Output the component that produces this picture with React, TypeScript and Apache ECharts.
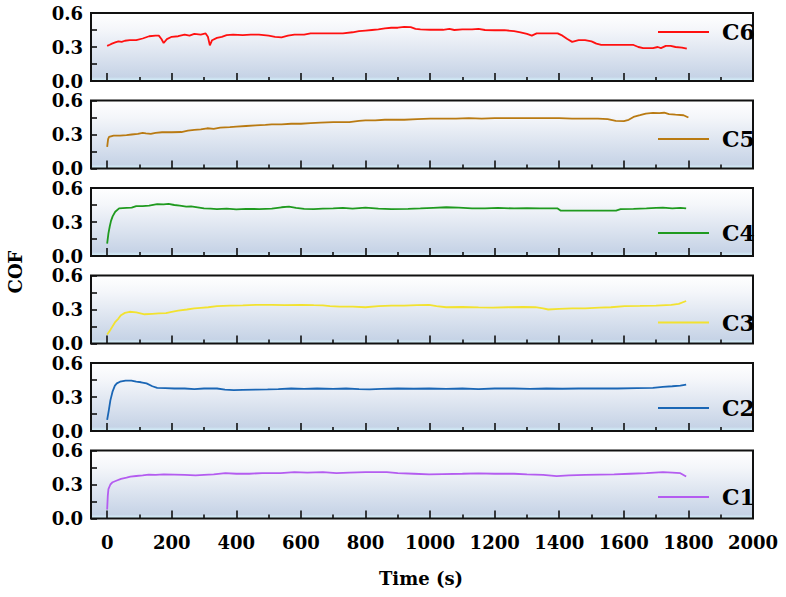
import React, { useEffect, useRef } from "react";
import * as echarts from "echarts";

const seriesNames = ["C6", "C5", "C4", "C3", "C2", "C1"];
const seriesColors = ["#ff1010", "#b97a12", "#1f9a1f", "#f2e230", "#1a66b5", "#b45cf0"];

const xMajorTicks = [0, 200, 400, 600, 800, 1000, 1200, 1400, 1600, 1800, 2000];
const xMinorTicks = [100, 300, 500, 700, 900, 1100, 1300, 1500, 1700, 1900];
const yLabelValues = [0, 0.3, 0.6];
const yTickValues = [0, 0.15, 0.3, 0.45, 0.6];

const c6: number[][] = [
  [0, 0.31], [8, 0.32], [15, 0.33], [25, 0.34], [35, 0.35], [45, 0.345], [55, 0.355], [70, 0.36], [90, 0.36],
  [110, 0.375], [130, 0.395], [150, 0.4], [160, 0.4], [168, 0.37], [175, 0.335], [185, 0.37], [200, 0.39],
  [220, 0.395], [240, 0.41], [255, 0.4], [270, 0.415], [290, 0.41], [305, 0.42], [312, 0.39], [318, 0.315],
  [325, 0.36], [340, 0.38], [355, 0.39], [370, 0.405], [390, 0.41], [420, 0.405], [445, 0.41], [470, 0.41],
  [500, 0.4], [520, 0.39], [540, 0.385], [560, 0.4], [580, 0.41], [610, 0.41], [630, 0.42], [660, 0.42],
  [700, 0.42], [730, 0.42], [760, 0.43], [780, 0.44], [800, 0.445], [820, 0.45], [840, 0.455], [860, 0.465],
  [880, 0.47], [900, 0.47], [920, 0.478], [940, 0.475], [955, 0.46], [970, 0.455], [1000, 0.452], [1040, 0.452],
  [1060, 0.46], [1075, 0.45], [1100, 0.455], [1130, 0.455], [1150, 0.46], [1170, 0.45], [1200, 0.448],
  [1230, 0.448], [1260, 0.44], [1280, 0.43], [1300, 0.415], [1315, 0.4], [1330, 0.42], [1360, 0.42],
  [1395, 0.42], [1410, 0.4], [1425, 0.37], [1440, 0.345], [1460, 0.36], [1480, 0.36], [1500, 0.35],
  [1515, 0.33], [1530, 0.318], [1560, 0.318], [1600, 0.318], [1630, 0.318], [1645, 0.3], [1660, 0.29],
  [1690, 0.29], [1705, 0.3], [1715, 0.29], [1730, 0.31], [1745, 0.31], [1760, 0.3], [1780, 0.295], [1795, 0.285],
];

const c5: number[][] = [
  [0, 0.19], [3, 0.26], [6, 0.28], [20, 0.29], [40, 0.29], [60, 0.295], [76, 0.3], [95, 0.305], [110, 0.315],
  [120, 0.31], [135, 0.305], [150, 0.315], [170, 0.32], [200, 0.32], [230, 0.322], [250, 0.334], [270, 0.34],
  [290, 0.345], [310, 0.355], [330, 0.35], [350, 0.36], [380, 0.365], [400, 0.37], [430, 0.375], [460, 0.38],
  [490, 0.385], [510, 0.39], [540, 0.39], [570, 0.395], [600, 0.395], [630, 0.4], [660, 0.405], [700, 0.41],
  [720, 0.41], [750, 0.41], [780, 0.42], [800, 0.424], [830, 0.425], [860, 0.43], [890, 0.43], [920, 0.43],
  [960, 0.435], [1000, 0.44], [1040, 0.44], [1080, 0.44], [1120, 0.445], [1160, 0.44], [1200, 0.445],
  [1240, 0.445], [1280, 0.445], [1320, 0.445], [1360, 0.445], [1400, 0.445], [1440, 0.44], [1480, 0.44],
  [1520, 0.44], [1550, 0.435], [1575, 0.42], [1600, 0.418], [1615, 0.43], [1630, 0.455], [1650, 0.47],
  [1668, 0.485], [1690, 0.49], [1710, 0.488], [1725, 0.492], [1740, 0.48], [1760, 0.475], [1785, 0.47], [1800, 0.45],
];

const c4: number[][] = [
  [0, 0.11], [4, 0.2], [8, 0.26], [12, 0.31], [17, 0.35], [25, 0.39], [37, 0.42], [60, 0.425], [76, 0.426],
  [90, 0.44], [110, 0.44], [130, 0.445], [155, 0.458], [175, 0.455], [190, 0.46], [208, 0.45], [225, 0.445],
  [245, 0.435], [260, 0.438], [280, 0.43], [300, 0.42], [320, 0.418], [340, 0.414], [370, 0.418], [400, 0.412],
  [430, 0.416], [471, 0.414], [510, 0.418], [540, 0.43], [563, 0.435], [585, 0.425], [610, 0.416], [640, 0.414],
  [668, 0.418], [700, 0.42], [730, 0.425], [760, 0.418], [800, 0.426], [840, 0.418], [880, 0.414], [932, 0.416],
  [970, 0.42], [1010, 0.425], [1050, 0.43], [1089, 0.426], [1130, 0.42], [1170, 0.42], [1210, 0.424],
  [1260, 0.42], [1300, 0.422], [1340, 0.42], [1380, 0.42], [1395, 0.42], [1405, 0.4], [1450, 0.4], [1500, 0.4],
  [1550, 0.4], [1576, 0.4], [1590, 0.414], [1630, 0.415], [1670, 0.42], [1700, 0.425], [1721, 0.426],
  [1750, 0.42], [1775, 0.425], [1793, 0.42],
];

const c3: number[][] = [
  [0, 0.08], [10, 0.12], [24, 0.186], [35, 0.22], [43, 0.25], [55, 0.27], [70, 0.28], [90, 0.275], [116, 0.258],
  [140, 0.262], [160, 0.265], [182, 0.268], [200, 0.28], [220, 0.29], [247, 0.3], [270, 0.31], [290, 0.315],
  [313, 0.32], [340, 0.33], [380, 0.334], [420, 0.336], [460, 0.34], [510, 0.34], [550, 0.338], [600, 0.34],
  [640, 0.338], [668, 0.337], [690, 0.33], [720, 0.325], [760, 0.325], [800, 0.32], [840, 0.33], [880, 0.335],
  [920, 0.335], [960, 0.338], [997, 0.34], [1020, 0.33], [1050, 0.32], [1100, 0.322], [1150, 0.318],
  [1195, 0.316], [1240, 0.32], [1290, 0.322], [1326, 0.32], [1350, 0.31], [1366, 0.3], [1400, 0.305],
  [1440, 0.31], [1480, 0.31], [1524, 0.316], [1560, 0.32], [1603, 0.33], [1650, 0.332], [1700, 0.335],
  [1747, 0.34], [1770, 0.35], [1793, 0.375],
];

const c2: number[][] = [
  [0, 0.098], [5, 0.18], [10, 0.27], [17, 0.35], [24, 0.4], [30, 0.42], [40, 0.435], [57, 0.445], [75, 0.445],
  [90, 0.435], [105, 0.43], [122, 0.42], [140, 0.395], [155, 0.38], [180, 0.378], [208, 0.375], [240, 0.375],
  [270, 0.37], [300, 0.375], [340, 0.375], [365, 0.365], [392, 0.36], [420, 0.362], [460, 0.365], [497, 0.367],
  [530, 0.37], [570, 0.375], [610, 0.372], [650, 0.375], [700, 0.372], [740, 0.375], [780, 0.37], [813, 0.367],
  [850, 0.372], [900, 0.375], [950, 0.373], [997, 0.375], [1050, 0.372], [1100, 0.375], [1150, 0.37],
  [1200, 0.375], [1260, 0.375], [1310, 0.372], [1360, 0.375], [1410, 0.373], [1460, 0.375], [1524, 0.375],
  [1580, 0.375], [1640, 0.378], [1690, 0.38], [1721, 0.39], [1750, 0.395], [1775, 0.4], [1793, 0.41],
];

const c1: number[][] = [
  [0, 0.08], [2, 0.2], [4, 0.26], [10, 0.3], [17, 0.32], [30, 0.335], [43, 0.35], [60, 0.36], [72, 0.37],
  [90, 0.375], [110, 0.38], [129, 0.388], [150, 0.385], [175, 0.39], [208, 0.388], [240, 0.385], [274, 0.38],
  [300, 0.385], [330, 0.39], [366, 0.4], [400, 0.395], [440, 0.395], [480, 0.4], [537, 0.4], [580, 0.41],
  [620, 0.405], [668, 0.41], [710, 0.4], [750, 0.405], [800, 0.41], [840, 0.41], [866, 0.41], [900, 0.4],
  [950, 0.395], [997, 0.39], [1040, 0.392], [1100, 0.395], [1150, 0.398], [1200, 0.395], [1260, 0.395],
  [1300, 0.39], [1350, 0.385], [1392, 0.373], [1430, 0.38], [1480, 0.385], [1524, 0.388], [1570, 0.39],
  [1620, 0.395], [1670, 0.4], [1721, 0.41], [1750, 0.405], [1775, 0.4], [1793, 0.37],
];

const seriesData = [c6, c5, c4, c3, c2, c1];

const GRID_LEFT = 91;
const GRID_WIDTH = 662;
const GRID_TOPS = [13, 100.5, 188, 275.5, 363, 450.5];
const GRID_HEIGHT = 68;
const LEGEND_LINE_Y = [32, 139, 233, 322.5, 408, 497];
const FONT = "'DejaVu Serif', 'Liberation Serif', serif";

export default function App() {
  const ref = useRef<HTMLDivElement>(null);

  useEffect(() => {
    if (!ref.current) return;
    const chart = echarts.init(ref.current, undefined, { renderer: "svg" });

    const bg = new echarts.graphic.LinearGradient(0, 0, 0, 1, [
      { offset: 0, color: "#ffffff" },
      { offset: 0.25, color: "#f4f6fa" },
      { offset: 0.94, color: "#c6d3e6" },
      { offset: 0.97, color: "#cfe6f3" },
      { offset: 1, color: "#d6f0fa" },
    ]);

    const grids = GRID_TOPS.map((top) => ({
      left: GRID_LEFT,
      top,
      width: GRID_WIDTH,
      height: GRID_HEIGHT,
      show: true,
      backgroundColor: bg,
      borderColor: "#111",
      borderWidth: 2,
    }));

    const mainX = GRID_TOPS.map((_, i) => ({
      type: "value",
      gridIndex: i,
      min: -50,
      max: 2000,
      position: "bottom",
      axisLine: { show: false, onZero: false },
      splitLine: { show: false },
      axisTick: {
        show: true,
        inside: true,
        length: 8,
        customValues: xMajorTicks,
        lineStyle: { color: "#111", width: 1.6 },
      },
      axisLabel: {
        show: i === 5,
        customValues: xMajorTicks,
        formatter: (v: number) => String(v),
        margin: 15,
        color: "#000",
        fontFamily: FONT,
        fontWeight: "bold",
        fontSize: 18,
      },
    }));

    const minorX = GRID_TOPS.map((_, i) => ({
      type: "value",
      gridIndex: i,
      min: -50,
      max: 2000,
      position: "bottom",
      offset: 0,
      axisLine: { show: false, onZero: false },
      splitLine: { show: false },
      axisTick: {
        show: true,
        inside: true,
        length: 4,
        customValues: xMinorTicks,
        lineStyle: { color: "#111", width: 1.6 },
      },
      axisLabel: { show: false },
    }));

    const yAxes = GRID_TOPS.map((_, i) => ({
      type: "value",
      gridIndex: i,
      min: 0,
      max: 0.6,
      interval: 0.15,
      position: "left",
      axisLine: { show: false, onZero: false },
      splitLine: { show: false },
      axisTick: {
        show: true,
        inside: true,
        length: 6,
        customValues: yTickValues,
        lineStyle: { color: "#111", width: 1.6 },
      },
      axisLabel: {
        customValues: yLabelValues,
        formatter: (v: number) => v.toFixed(1),
        margin: 8,
        color: "#000",
        fontFamily: FONT,
        fontWeight: "bold",
        fontSize: 18,
        lineHeight: 17,
      },
    }));

    const series = seriesNames.map((name, i) => ({
      type: "line",
      name,
      xAxisIndex: i,
      yAxisIndex: i,
      data: seriesData[i],
      symbol: "none",
      lineStyle: { color: seriesColors[i], width: 1.8 },
      itemStyle: { color: seriesColors[i] },
      z: 3,
    }));

    const legends = seriesNames.map((name, i) => ({
      data: [{ name, icon: "rect" }],
      left: 658,
      top: LEGEND_LINE_Y[i] - 11,
      padding: 0,
      itemWidth: 51,
      itemHeight: 2,
      selectedMode: false,
      textStyle: {
        color: "#000",
        fontFamily: FONT,
        fontWeight: "bold",
        fontSize: 22,
        lineHeight: 22,
        padding: [0, 0, 0, 8],
      },
    }));

    chart.setOption({
      animation: false,
      backgroundColor: "#ffffff",
      grid: grids,
      xAxis: [...mainX, ...minorX],
      yAxis: yAxes,
      legend: legends,
      series,
      graphic: [
        {
          type: "rect",
          z: 100,
          shape: { x: 754.5, y: 0, width: 40, height: 523 },
          style: { fill: "#ffffff" },
        },
        {
          type: "text",
          x: 15,
          y: 272,
          rotation: Math.PI / 2,
          style: {
            text: "COF",
            fill: "#000",
            font: `bold 18px ${FONT}`,
            align: "center",
            verticalAlign: "middle",
          },
        },
        {
          type: "text",
          x: 421,
          y: 578,
          style: {
            text: "Time (s)",
            fill: "#000",
            font: `bold 18px ${FONT}`,
            align: "center",
            verticalAlign: "middle",
          },
        },
      ],
    });

    return () => chart.dispose();
  }, []);

  return (
    <div
      ref={ref}
      style={{ position: "fixed", left: 0, top: 0, width: 786, height: 597 }}
    />
  );
}
